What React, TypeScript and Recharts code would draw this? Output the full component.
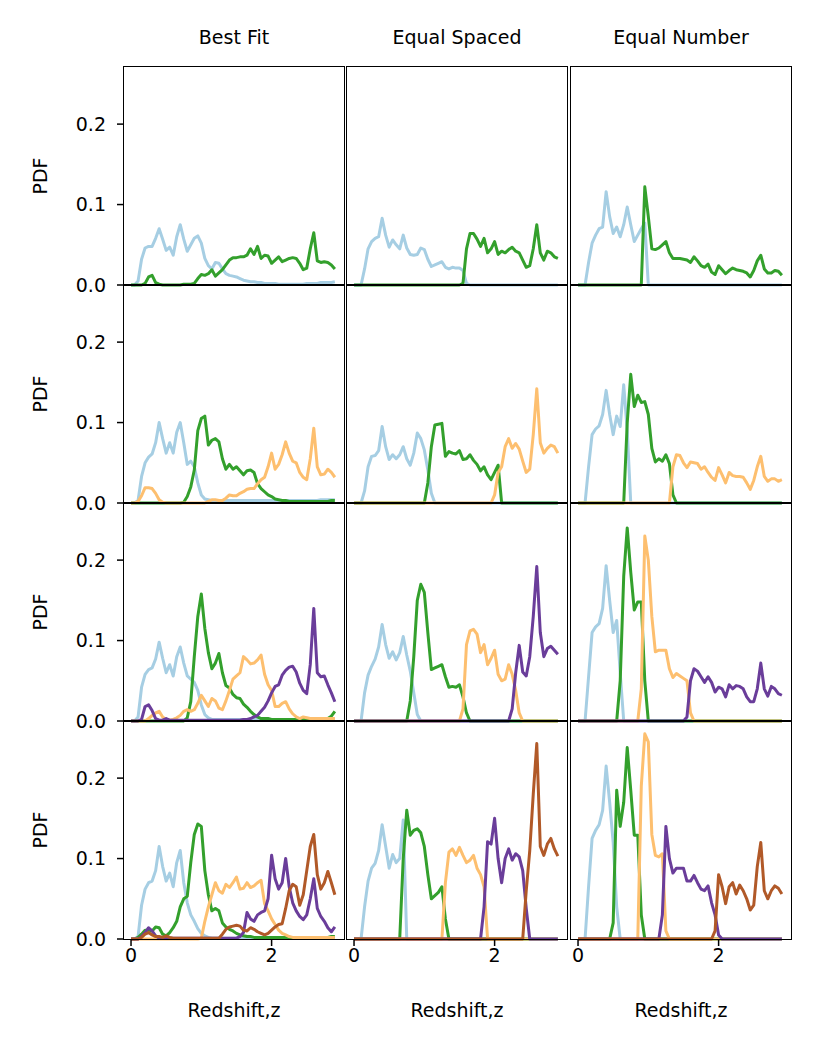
import { LineChart, Line, XAxis, YAxis } from 'recharts'

// redshift grid shared by every panel
const Z = [
  0, 0.05, 0.1, 0.15, 0.2, 0.25, 0.3, 0.35, 0.4, 0.45,
  0.5, 0.55, 0.6, 0.65, 0.7, 0.75, 0.8, 0.85, 0.9, 0.95,
  1, 1.05, 1.1, 1.15, 1.2, 1.25, 1.3, 1.35, 1.4, 1.45,
  1.5, 1.55, 1.6, 1.65, 1.7, 1.75, 1.8, 1.85, 1.9, 1.95,
  2, 2.05, 2.1, 2.15, 2.2, 2.25, 2.3, 2.35, 2.4, 2.45,
  2.5, 2.55, 2.6, 2.65, 2.7, 2.75, 2.8, 2.85, 2.9,
]

// PDF values x1000, one array per bin (bf = Best Fit, es = Equal Spaced, en = Equal Number)
const bf1Blue = [
  0, 0, 5, 32, 46, 48, 48, 58, 70, 57,
  43, 47, 37, 60, 75, 57, 42, 50, 58, 61,
  52, 33, 24, 20, 28, 27, 20, 14, 12, 11,
  10, 8, 6, 5, 4, 4, 3, 3, 2, 2,
  2, 2, 1, 1, 1, 1, 1, 1, 1, 1,
  2, 2, 2, 2, 3, 3, 3, 3, 4,
]
const bf1Green = [
  0, 0, 0, 0, 2, 10, 12, 3, 1, 0,
  0, 0, 0, 0, 0, 1, 1, 1, 2, 8,
  13, 12, 14, 19, 11, 15, 19, 25, 31, 34,
  34, 35, 35, 37, 45, 38, 48, 33, 37, 36,
  27, 31, 35, 29, 31, 33, 34, 33, 27, 19,
  21, 45, 65, 30, 28, 29, 28, 25, 20,
]
const es1Blue = [
  0, 0, 0, 20, 45, 54, 58, 60, 83, 62,
  47, 56, 50, 45, 62, 46, 38, 37, 38, 46,
  44, 32, 23, 25, 27, 29, 22, 20, 22, 21,
  21, 18, 2, 0, 0, 0, 0, 0, 0, 0,
  0, 0, 0, 0, 0, 0, 0, 0, 0, 0,
  0, 0, 0, 0, 0, 0, 0, 0, 0,
]
const es1Green = [
  0, 0, 0, 0, 0, 0, 0, 0, 0, 0,
  0, 0, 0, 0, 0, 0, 0, 0, 0, 0,
  0, 0, 0, 0, 0, 0, 0, 0, 0, 0,
  0, 2, 45, 64, 64, 57, 48, 58, 40, 45,
  54, 38, 42, 40, 44, 47, 42, 40, 31, 22,
  24, 45, 75, 40, 31, 42, 40, 35, 33,
]
const en1Blue = [
  0, 0, 0, 28, 52, 62, 70, 72, 116, 85,
  64, 72, 60, 75, 97, 75, 54, 62, 70, 77,
  0, 0, 0, 0, 0, 0, 0, 0, 0, 0,
  0, 0, 0, 0, 0, 0, 0, 0, 0, 0,
  0, 0, 0, 0, 0, 0, 0, 0, 0, 0,
  0, 0, 0, 0, 0, 0, 0, 0, 0,
]
const en1Green = [
  0, 0, 0, 0, 0, 0, 0, 0, 0, 0,
  0, 0, 0, 0, 0, 0, 0, 0, 0, 122,
  85, 45, 44, 46, 50, 54, 40, 33, 33, 33,
  32, 31, 28, 35, 30, 24, 22, 26, 16, 13,
  24, 19, 14, 18, 21, 19, 18, 17, 15, 10,
  18, 30, 37, 20, 15, 15, 18, 17, 12,
]

const bf2Blue = [
  0, 0, 3, 33, 50, 57, 61, 75, 100, 80,
  62, 75, 62, 88, 100, 75, 48, 52, 45, 25,
  10, 5, 4, 3, 3, 3, 3, 3, 3, 3,
  3, 3, 3, 3, 3, 3, 3, 3, 3, 3,
  3, 3, 3, 3, 3, 3, 3, 3, 3, 3,
  3, 3, 3, 3, 4, 4, 4, 4, 4,
]
const bf2Green = [
  0, 0, 0, 0, 0, 0, 0, 0, 0, 0,
  0, 0, 0, 0, 0, 1, 8, 20, 41, 90,
  105, 108, 72, 78, 80, 76, 55, 42, 48, 42,
  45, 40, 35, 40, 41, 38, 24, 18, 14, 10,
  8, 5, 4, 3, 3, 2, 2, 2, 2, 2,
  2, 2, 2, 2, 2, 2, 2, 3, 3,
]
const bf2Orange = [
  0, 0, 2, 9, 19, 19, 18, 12, 4, 1,
  0, 0, 0, 0, 0, 0, 0, 0, 0, 0,
  0, 0, 2, 4, 4, 3, 3, 6, 10, 9,
  9, 12, 14, 17, 18, 18, 24, 29, 32, 45,
  62, 42, 48, 60, 76, 62, 52, 50, 38, 32,
  29, 55, 93, 45, 35, 36, 42, 38, 32,
]
const es2Blue = [
  0, 0, 0, 15, 45, 58, 59, 65, 95, 70,
  54, 60, 55, 60, 70, 55, 47, 62, 87, 80,
  66, 41, 12, 0, 0, 0, 0, 0, 0, 0,
  0, 0, 0, 0, 0, 0, 0, 0, 0, 0,
  0, 0, 0, 0, 0, 0, 0, 0, 0, 0,
  0, 0, 0, 0, 0, 0, 0, 0, 0,
]
const es2Green = [
  0, 0, 0, 0, 0, 0, 0, 0, 0, 0,
  0, 0, 0, 0, 0, 0, 0, 0, 0, 0,
  0, 25, 70, 97, 98, 99, 58, 64, 62, 61,
  65, 54, 55, 60, 53, 48, 40, 45, 35, 29,
  38, 47, 0, 0, 0, 0, 0, 0, 0, 0,
  0, 0, 0, 0, 0, 0, 0, 0, 0,
]
const es2Orange = [
  0, 0, 0, 0, 0, 0, 0, 0, 0, 0,
  0, 0, 0, 0, 0, 0, 0, 0, 0, 0,
  0, 0, 0, 0, 0, 0, 0, 0, 0, 0,
  0, 0, 0, 0, 0, 0, 0, 0, 0, 0,
  10, 38, 45, 70, 80, 68, 74, 67, 52, 38,
  42, 85, 142, 75, 62, 68, 72, 70, 62,
]
const en2Blue = [
  0, 0, 0, 45, 85, 92, 96, 110, 140, 110,
  85, 108, 95, 147, 90, 0, 0, 0, 0, 0,
  0, 0, 0, 0, 0, 0, 0, 0, 0, 0,
  0, 0, 0, 0, 0, 0, 0, 0, 0, 0,
  0, 0, 0, 0, 0, 0, 0, 0, 0, 0,
  0, 0, 0, 0, 0, 0, 0, 0, 0,
]
const en2Green = [
  0, 0, 0, 0, 0, 0, 0, 0, 0, 0,
  0, 0, 0, 0, 100, 160, 120, 134, 125, 126,
  110, 68, 51, 55, 52, 60, 49, 10, 0, 0,
  0, 0, 0, 0, 0, 0, 0, 0, 0, 0,
  0, 0, 0, 0, 0, 0, 0, 0, 0, 0,
  0, 0, 0, 0, 0, 0, 0, 0, 0,
]
const en2Orange = [
  0, 0, 0, 0, 0, 0, 0, 0, 0, 0,
  0, 0, 0, 0, 0, 0, 0, 0, 0, 0,
  0, 0, 0, 0, 0, 0, 0, 45, 60, 59,
  50, 44, 51, 50, 49, 42, 45, 38, 32, 28,
  44, 35, 25, 38, 34, 33, 33, 32, 25, 17,
  28, 45, 58, 33, 27, 30, 30, 27, 29,
]

const bf3Blue = [
  0, 0, 5, 42, 58, 64, 66, 77, 98, 78,
  60, 70, 56, 80, 92, 72, 56, 52, 48, 38,
  20, 8, 4, 2, 2, 2, 2, 2, 2, 2,
  2, 2, 2, 2, 2, 2, 2, 2, 2, 2,
  2, 2, 2, 2, 2, 2, 2, 2, 2, 2,
  2, 2, 2, 2, 2, 2, 2, 2, 2,
]
const bf3Green = [
  0, 0, 0, 0, 0, 0, 0, 0, 0, 0,
  0, 0, 0, 0, 0, 0, 4, 24, 80, 130,
  158, 115, 85, 65, 72, 84, 60, 44, 41, 33,
  29, 28, 21, 17, 12, 8, 5, 3, 3, 3,
  2, 2, 2, 2, 2, 2, 2, 2, 2, 2,
  2, 2, 2, 2, 2, 2, 3, 6, 12,
]
const bf3Orange = [
  0, 0, 0, 0, 0, 3, 7, 10, 12, 5,
  2, 1, 2, 4, 7, 12, 14, 12, 14, 22,
  32, 25, 18, 28, 25, 16, 14, 25, 38, 52,
  56, 60, 80, 76, 71, 72, 76, 82, 58, 45,
  38, 18, 18, 22, 24, 15, 9, 5, 3, 5,
  4, 3, 3, 3, 3, 3, 3, 3, 3,
]
const bf3Purple = [
  0, 0, 0, 2, 18, 20, 13, 3, 1, 1,
  3, 1, 1, 1, 1, 1, 1, 1, 1, 1,
  1, 1, 1, 1, 1, 1, 1, 1, 1, 1,
  1, 1, 2, 2, 3, 5, 7, 12, 17, 25,
  35, 43, 45, 57, 63, 67, 68, 61, 47, 38,
  34, 70, 140, 60, 55, 56, 45, 35, 24,
]
const es3Blue = [
  0, 0, 0, 35, 57, 68, 77, 92, 120, 95,
  78, 86, 76, 85, 105, 82, 62, 35, 8, 0,
  0, 0, 0, 0, 0, 0, 0, 0, 0, 0,
  0, 0, 0, 0, 0, 0, 0, 0, 0, 0,
  0, 0, 0, 0, 0, 0, 0, 0, 0, 0,
  0, 0, 0, 0, 0, 0, 0, 0, 0,
]
const es3Green = [
  0, 0, 0, 0, 0, 0, 0, 0, 0, 0,
  0, 0, 0, 0, 0, 0, 25, 80, 150, 170,
  160, 110, 64, 66, 68, 70, 55, 42, 43, 42,
  45, 30, 10, 0, 0, 0, 0, 0, 0, 0,
  0, 0, 0, 0, 0, 0, 0, 0, 0, 0,
  0, 0, 0, 0, 0, 0, 0, 0, 0,
]
const es3Orange = [
  0, 0, 0, 0, 0, 0, 0, 0, 0, 0,
  0, 0, 0, 0, 0, 0, 0, 0, 0, 0,
  0, 0, 0, 0, 0, 0, 0, 0, 0, 0,
  0, 15, 95, 112, 114, 108, 85, 95, 70, 78,
  88, 58, 50, 52, 70, 58, 38, 10, 0, 0,
  0, 0, 0, 0, 0, 0, 0, 0, 0,
]
const es3Purple = [
  0, 0, 0, 0, 0, 0, 0, 0, 0, 0,
  0, 0, 0, 0, 0, 0, 0, 0, 0, 0,
  0, 0, 0, 0, 0, 0, 0, 0, 0, 0,
  0, 0, 0, 0, 0, 0, 0, 0, 0, 0,
  0, 0, 0, 0, 0, 15, 60, 94, 61, 56,
  80, 130, 192, 110, 80, 90, 93, 88, 83,
]
const en3Blue = [
  0, 0, 0, 55, 110, 117, 121, 140, 193, 150,
  110, 125, 60, 0, 0, 0, 0, 0, 0, 0,
  0, 0, 0, 0, 0, 0, 0, 0, 0, 0,
  0, 0, 0, 0, 0, 0, 0, 0, 0, 0,
  0, 0, 0, 0, 0, 0, 0, 0, 0, 0,
  0, 0, 0, 0, 0, 0, 0, 0, 0,
]
const en3Green = [
  0, 0, 0, 0, 0, 0, 0, 0, 0, 0,
  0, 0, 50, 180, 240, 185, 138, 148, 148, 50,
  0, 0, 0, 0, 0, 0, 0, 0, 0, 0,
  0, 0, 0, 0, 0, 0, 0, 0, 0, 0,
  0, 0, 0, 0, 0, 0, 0, 0, 0, 0,
  0, 0, 0, 0, 0, 0, 0, 0, 0,
]
const en3Orange = [
  0, 0, 0, 0, 0, 0, 0, 0, 0, 0,
  0, 0, 0, 0, 0, 0, 0, 0, 40, 230,
  200, 130, 86, 88, 88, 88, 65, 54, 59, 56,
  53, 50, 10, 0, 0, 0, 0, 0, 0, 0,
  0, 0, 0, 0, 0, 0, 0, 0, 0, 0,
  0, 0, 0, 0, 0, 0, 0, 0, 0,
]
const en3Purple = [
  0, 0, 0, 0, 0, 0, 0, 0, 0, 0,
  0, 0, 0, 0, 0, 0, 0, 0, 0, 0,
  0, 0, 0, 0, 0, 0, 0, 0, 0, 0,
  0, 5, 50, 65, 62, 55, 48, 55, 48, 36,
  42, 40, 30, 45, 40, 44, 43, 40, 30, 24,
  24, 40, 72, 40, 31, 43, 40, 34, 32,
]

const bf4Blue = [
  0, 0, 3, 42, 62, 70, 72, 85, 115, 90,
  72, 82, 65, 95, 110, 70, 45, 30, 22, 13,
  7, 4, 2, 1, 1, 1, 1, 1, 1, 1,
  1, 1, 1, 1, 1, 1, 1, 1, 1, 1,
  1, 1, 1, 1, 1, 1, 1, 1, 1, 1,
  1, 1, 1, 1, 1, 1, 1, 1, 1,
]
const bf4Green = [
  0, 0, 2, 6, 11, 11, 10, 15, 14, 6,
  4, 8, 14, 22, 40, 50, 53, 95, 130, 143,
  140, 85, 55, 35, 38, 35, 20, 15, 12, 10,
  7, 5, 4, 3, 3, 2, 2, 2, 2, 2,
  2, 2, 2, 2, 2, 2, 2, 2, 2, 2,
  2, 2, 2, 2, 2, 2, 2, 3, 3,
]
const bf4Orange = [
  0, 0, 0, 0, 0, 0, 0, 0, 0, 0,
  0, 0, 0, 0, 0, 0, 0, 0, 0, 0,
  1, 22, 40, 55, 70, 60, 57, 68, 64, 70,
  77, 62, 63, 70, 64, 66, 70, 73, 44, 35,
  25, 18, 11, 7, 5, 3, 2, 2, 2, 2,
  2, 2, 2, 2, 2, 2, 2, 2, 2,
]
const bf4Purple = [
  0, 0, 0, 3, 8, 14, 10, 4, 1, 1,
  1, 1, 1, 1, 1, 1, 1, 1, 1, 1,
  1, 1, 1, 1, 1, 1, 1, 1, 1, 1,
  1, 3, 8, 33, 25, 22, 30, 33, 35, 50,
  104, 75, 62, 70, 100, 65, 45, 35, 28, 24,
  30, 50, 75, 38, 28, 22, 14, 9, 15,
]
const bf4Brown = [
  0, 0, 0, 2, 6, 8, 5, 3, 3, 2,
  4, 2, 1, 1, 1, 1, 1, 1, 1, 1,
  1, 1, 1, 1, 1, 1, 6, 12, 15, 16,
  17, 16, 11, 10, 14, 12, 9, 7, 5, 7,
  11, 15, 18, 19, 38, 60, 68, 65, 42, 55,
  85, 115, 130, 80, 62, 70, 84, 70, 55,
]
const es4Blue = [
  0, 0, 0, 40, 72, 88, 94, 110, 142, 115,
  88, 105, 95, 100, 148, 0, 0, 0, 0, 0,
  0, 0, 0, 0, 0, 0, 0, 0, 0, 0,
  0, 0, 0, 0, 0, 0, 0, 0, 0, 0,
  0, 0, 0, 0, 0, 0, 0, 0, 0, 0,
  0, 0, 0, 0, 0, 0, 0, 0, 0,
]
const es4Green = [
  0, 0, 0, 0, 0, 0, 0, 0, 0, 0,
  0, 0, 0, 0, 100, 160, 129, 135, 137, 132,
  115, 80, 50, 54, 58, 65, 25, 0, 0, 0,
  0, 0, 0, 0, 0, 0, 0, 0, 0, 0,
  0, 0, 0, 0, 0, 0, 0, 0, 0, 0,
  0, 0, 0, 0, 0, 0, 0, 0, 0,
]
const es4Orange = [
  0, 0, 0, 0, 0, 0, 0, 0, 0, 0,
  0, 0, 0, 0, 0, 0, 0, 0, 0, 0,
  0, 0, 0, 0, 0, 0, 70, 108, 112, 104,
  114, 104, 95, 98, 104, 88, 80, 65, 0, 0,
  0, 0, 0, 0, 0, 0, 0, 0, 0, 0,
  0, 0, 0, 0, 0, 0, 0, 0, 0,
]
const es4Purple = [
  0, 0, 0, 0, 0, 0, 0, 0, 0, 0,
  0, 0, 0, 0, 0, 0, 0, 0, 0, 0,
  0, 0, 0, 0, 0, 0, 0, 0, 0, 0,
  0, 0, 0, 0, 0, 0, 0, 40, 121, 118,
  150, 100, 70, 100, 112, 98, 106, 102, 85, 38,
  0, 0, 0, 0, 0, 0, 0, 0, 0,
]
const es4Brown = [
  0, 0, 0, 0, 0, 0, 0, 0, 0, 0,
  0, 0, 0, 0, 0, 0, 0, 0, 0, 0,
  0, 0, 0, 0, 0, 0, 0, 0, 0, 0,
  0, 0, 0, 0, 0, 0, 0, 0, 0, 0,
  0, 0, 0, 0, 0, 0, 0, 0, 0, 60,
  110, 180, 243, 115, 104, 118, 125, 112, 103,
]
const en4Blue = [
  0, 0, 0, 65, 125, 135, 142, 160, 215, 170,
  120, 40, 0, 0, 0, 0, 0, 0, 0, 0,
  0, 0, 0, 0, 0, 0, 0, 0, 0, 0,
  0, 0, 0, 0, 0, 0, 0, 0, 0, 0,
  0, 0, 0, 0, 0, 0, 0, 0, 0, 0,
  0, 0, 0, 0, 0, 0, 0, 0, 0,
]
const en4Green = [
  0, 0, 0, 0, 0, 0, 0, 0, 0, 0,
  20, 185, 140, 170, 238, 185, 129, 129, 30, 0,
  0, 0, 0, 0, 0, 0, 0, 0, 0, 0,
  0, 0, 0, 0, 0, 0, 0, 0, 0, 0,
  0, 0, 0, 0, 0, 0, 0, 0, 0, 0,
  0, 0, 0, 0, 0, 0, 0, 0, 0,
]
const en4Orange = [
  0, 0, 0, 0, 0, 0, 0, 0, 0, 0,
  0, 0, 0, 0, 0, 0, 0, 0, 190, 255,
  245, 130, 104, 102, 106, 10, 0, 0, 0, 0,
  0, 0, 0, 0, 0, 0, 0, 0, 0, 0,
  0, 0, 0, 0, 0, 0, 0, 0, 0, 0,
  0, 0, 0, 0, 0, 0, 0, 0, 0,
]
const en4Purple = [
  0, 0, 0, 0, 0, 0, 0, 0, 0, 0,
  0, 0, 0, 0, 0, 0, 0, 0, 0, 0,
  0, 0, 0, 0, 30, 140, 100, 82, 88, 88,
  88, 72, 72, 79, 70, 62, 60, 66, 45, 30,
  5, 0, 0, 0, 0, 0, 0, 0, 0, 0,
  0, 0, 0, 0, 0, 0, 0, 0, 0,
]
const en4Brown = [
  0, 0, 0, 0, 0, 0, 0, 0, 0, 0,
  0, 0, 0, 0, 0, 0, 0, 0, 0, 0,
  0, 0, 0, 0, 0, 0, 0, 0, 0, 0,
  0, 0, 0, 0, 0, 0, 0, 0, 0, 10,
  80, 65, 44, 65, 70, 56, 67, 60, 50, 36,
  42, 90, 120, 60, 50, 60, 66, 63, 56,
]

const COLUMN_TITLES = ['Best Fit', 'Equal Spaced', 'Equal Number']
const Y_TICKS = [0, 0.1, 0.2]
const X_TICKS = [0, 2]
const COLORS = ['#a6cee3', '#33a02c', '#fdbf6f', '#6a3d9a', '#b15928']

const PANELS = [
  [[bf1Blue, bf1Green], [es1Blue, es1Green], [en1Blue, en1Green]],
  [[bf2Blue, bf2Green, bf2Orange], [es2Blue, es2Green, es2Orange], [en2Blue, en2Green, en2Orange]],
  [
    [bf3Blue, bf3Green, bf3Orange, bf3Purple],
    [es3Blue, es3Green, es3Orange, es3Purple],
    [en3Blue, en3Green, en3Orange, en3Purple],
  ],
  [
    [bf4Blue, bf4Green, bf4Orange, bf4Purple, bf4Brown],
    [es4Blue, es4Green, es4Orange, es4Purple, es4Brown],
    [en4Blue, en4Green, en4Orange, en4Purple, en4Brown],
  ],
]

const FONT = '"DejaVu Sans", sans-serif'
const FS = 19
const PANEL_W = 220
const PANEL_H = 218
const COL_LEFT = [124, 347, 571]
const ROW_TOP = [67, 285, 503, 721]
const Y_AXIS_W = 80
const X_AXIS_H = 36
const PAD_V = 14 // room above/below so the 0.0 / 0.2 labels aren't clipped
const X_DOMAIN = [-0.1, 3.03]
const Y_DOMAIN = [0, 0.271]

function Panel({ row, col, series }: { row: number; col: number; series: number[][] }) {
  const leftPad = col === 0 ? Y_AXIS_W : 0
  const bottomPad = row === 3 ? X_AXIS_H : 0
  const data = Z.map((z, i) => {
    const d: Record<string, number> = { z }
    series.forEach((s, j) => {
      d['s' + j] = s[i] / 1000
    })
    return d
  })

  return (
    <div style={{ position: 'absolute', left: COL_LEFT[col] - leftPad, top: ROW_TOP[row] - PAD_V }}>
      <LineChart
        width={PANEL_W + leftPad}
        height={PANEL_H + bottomPad + 2 * PAD_V}
        data={data}
        margin={{ top: PAD_V, right: 0, bottom: PAD_V, left: 0 }}
      >
        <XAxis
          type="number"
          dataKey="z"
          domain={X_DOMAIN}
          ticks={X_TICKS}
          interval={0}
          hide={row !== 3}
          height={bottomPad}
          axisLine={false}
          tickLine={{ stroke: '#000', strokeWidth: 1.5 }}
          tickSize={7}
          tickMargin={3}
          tick={{ fill: '#000', fontSize: FS, fontFamily: FONT }}
        />
        <YAxis
          type="number"
          domain={Y_DOMAIN}
          ticks={Y_TICKS}
          interval={0}
          hide={col !== 0}
          width={leftPad}
          axisLine={false}
          tickLine={{ stroke: '#000', strokeWidth: 1.5 }}
          tickSize={7}
          tickMargin={11}
          tickFormatter={(v: number) => v.toFixed(1)}
          tick={{ fill: '#000', fontSize: FS, fontFamily: FONT }}
        />
        {series.map((_, j) => (
          <Line
            key={j}
            type="linear"
            dataKey={'s' + j}
            stroke={COLORS[j]}
            strokeWidth={3}
            strokeLinejoin="round"
            dot={false}
            activeDot={false}
            isAnimationActive={false}
          />
        ))}
      </LineChart>
      {/* axes frame */}
      <div
        style={{
          position: 'absolute',
          left: leftPad - 0.8,
          top: PAD_V - 0.8,
          width: PANEL_W + 1.6,
          height: PANEL_H + 1.6,
          border: '1.6px solid #000',
          boxSizing: 'border-box',
          pointerEvents: 'none',
        }}
      />
    </div>
  )
}

const textStyle = {
  position: 'absolute' as const,
  fontFamily: FONT,
  fontSize: FS,
  color: '#000',
  whiteSpace: 'nowrap' as const,
  transform: 'translate(-50%, -50%)',
}

export default function App() {
  return (
    <div
      style={{
        position: 'absolute',
        left: 0,
        top: 0,
        width: 830,
        height: 1055,
        background: '#fff',
        fontFamily: FONT,
      }}
    >
      {COLUMN_TITLES.map((t, c) => (
        <div key={t} style={{ ...textStyle, left: COL_LEFT[c] + PANEL_W / 2, top: 37 }}>
          {t}
        </div>
      ))}
      {ROW_TOP.map((top, r) => (
        <div
          key={'pdf' + r}
          style={{ ...textStyle, left: 40, top: top + PANEL_H / 2, transform: 'translate(-50%, -50%) rotate(-90deg)' }}
        >
          PDF
        </div>
      ))}
      {COL_LEFT.map((left, c) => (
        <div key={'xl' + c} style={{ ...textStyle, left: left + PANEL_W / 2, top: 1010 }}>
          Redshift,z
        </div>
      ))}
      {PANELS.map((rowPanels, r) =>
        rowPanels.map((series, c) => <Panel key={r + '-' + c} row={r} col={c} series={series} />)
      )}
    </div>
  )
}
